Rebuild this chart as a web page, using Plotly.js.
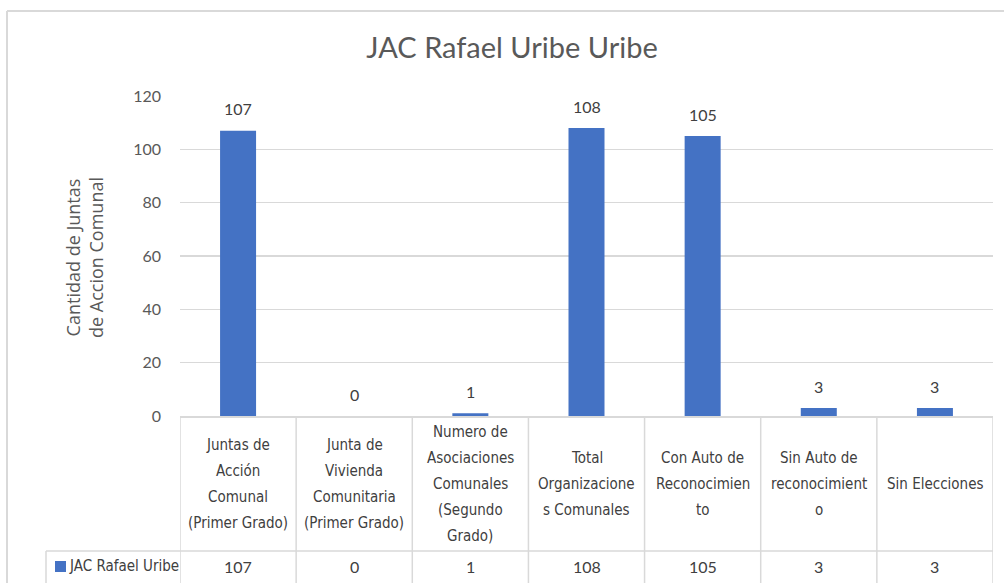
<!DOCTYPE html>
<html>
<head>
<meta charset="utf-8">
<script src="https://cdn.plot.ly/plotly-3.0.1.min.js"></script>
<style>html,body{margin:0;padding:0;background:#fff;}#chart{width:1004px;height:583px;}</style>
</head>
<body>
<div id="chart"></div>
<script>
// ---- data ----
const chartTitle = "JAC Rafael Uribe Uribe";
const yTitleLines = ["Cantidad de Juntas", "de Accion Comunal"];
const seriesName = "JAC Rafael Uribe";
const categoryLines = [
  ["Juntas de", "Acción", "Comunal", "(Primer Grado)"],
  ["Junta de", "Vivienda", "Comunitaria", "(Primer Grado)"],
  ["Numero de", "Asociaciones", "Comunales", "(Segundo", "Grado)"],
  ["Total", "Organizacione", "s Comunales"],
  ["Con Auto de", "Reconocimien", "to"],
  ["Sin Auto de", "reconocimient", "o"],
  ["Sin Elecciones"]
];
const values = [107, 0, 1, 108, 105, 3, 3];
const yTicks = [0, 20, 40, 60, 80, 100, 120];

// ---- layout geometry (pixels) ----
const W = 1004, H = 583;
const M = {l: 180, r: 11, t: 96, b: 167};
const PW = W - M.l - M.r, PH = H - M.t - M.b;
const px = x => (x - M.l) / PW;          // pixel x -> paper
const py = y => 1 - (y - M.t) / PH;      // pixel y -> paper

const categories = categoryLines.map(l => l.join(" "));
const blue = "#4472C4";
const grid = "#d9d9d9";
const txt = "#595959";
const narrow = "'Liberation Sans Narrow', 'Arial Narrow', 'DejaVu Sans Condensed', sans-serif";
const base = "Lato, Calibri, 'Open Sans', sans-serif";

const trace = {
  type: "bar",
  x: categories,
  y: values,
  name: seriesName,
  marker: {color: blue},
  width: 0.31,
  hoverinfo: "skip"
};

const shapes = [];
const annotations = [];
const headerTop = 416, rowTop = 551, bottom = 600;
const n = categories.length;

// outer chart border
shapes.push({type: "line", xref: "paper", yref: "paper", x0: px(7), x1: px(1010), y0: py(11), y1: py(11), line: {color: grid, width: 2}});
shapes.push({type: "line", xref: "paper", yref: "paper", x0: px(7), x1: px(7), y0: py(11), y1: py(600), line: {color: grid, width: 2}});

// table vertical lines
for (let i = 0; i <= n; i++) {
  shapes.push({type: "line", xref: "x", yref: "paper", x0: i - 0.5, x1: i - 0.5, y0: py(headerTop), y1: py(bottom), line: {color: grid, width: 1.5}});
}
// legend cell left line and row separator
shapes.push({type: "line", xref: "paper", yref: "paper", x0: px(46), x1: px(46), y0: py(rowTop), y1: py(bottom), line: {color: grid, width: 1.5}});
shapes.push({type: "line", xref: "paper", yref: "paper", x0: px(46), x1: 1, y0: py(rowTop), y1: py(rowTop), line: {color: grid, width: 1.5}});
// legend key
shapes.push({type: "rect", xref: "paper", yref: "paper", x0: px(55), x1: px(66), y0: py(572), y1: py(561), fillcolor: blue, line: {width: 0}});

// data labels above bars
values.forEach((v, i) => {
  annotations.push({xref: "x", yref: "y", x: i, y: v, yshift: 22, text: String(v), showarrow: false,
    xanchor: "center", yanchor: "middle", font: {family: base, size: 16, color: "#404040"}});
});

// header text lines
const lineH = 26;
const headerMid = (headerTop + rowTop) / 2;
categoryLines.forEach((lines, i) => {
  lines.forEach((s, k) => {
    const yy = headerMid + (k - (lines.length - 1) / 2) * lineH;
    annotations.push({xref: "x", yref: "paper", x: i, y: py(yy), text: s, showarrow: false,
      xanchor: "center", yanchor: "middle", font: {family: narrow, size: 15, color: "#404040"}});
  });
});
// data row values
values.forEach((v, i) => {
  annotations.push({xref: "x", yref: "paper", x: i, y: py(566), text: String(v), showarrow: false,
    xanchor: "center", yanchor: "middle", font: {family: base, size: 16, color: "#404040"}});
});
// series label
annotations.push({xref: "paper", yref: "paper", x: px(67), y: py(566), text: seriesName, showarrow: false,
  xanchor: "left", yanchor: "middle", font: {family: narrow, size: 15, color: "#404040"}});
// y axis title
annotations.push({xref: "paper", yref: "paper", x: px(84), y: py(258), text: yTitleLines.join("<br>"), showarrow: false,
  textangle: -90, xanchor: "center", yanchor: "middle", font: {family: "'Open Sans', sans-serif", size: 18, color: txt}});

const layout = {
  width: W, height: H,
  margin: M,
  paper_bgcolor: "#fff", plot_bgcolor: "#fff",
  showlegend: false,
  title: {text: chartTitle, x: 512 / W, xref: "container", xanchor: "center", y: 1 - 48 / H, yref: "container", yanchor: "middle",
    font: {family: base, size: 29, color: txt}},
  xaxis: {type: "category", range: [-0.5, n - 0.5], showticklabels: false, showgrid: false,
    showline: true, linecolor: grid, linewidth: 1.5, zeroline: false, fixedrange: true},
  yaxis: {range: [0, 120], tickvals: yTicks, ticktext: yTicks.map(String), showgrid: true, gridcolor: grid, gridwidth: 1.5,
    zeroline: false, showline: false, ticks: "", ticklabelstandoff: 18,
    tickfont: {family: base, size: 16, color: txt}, fixedrange: true},
  shapes: shapes,
  annotations: annotations
};

Plotly.newPlot("chart", [trace], layout, {displayModeBar: false, staticPlot: true});
</script>
</body>
</html>
